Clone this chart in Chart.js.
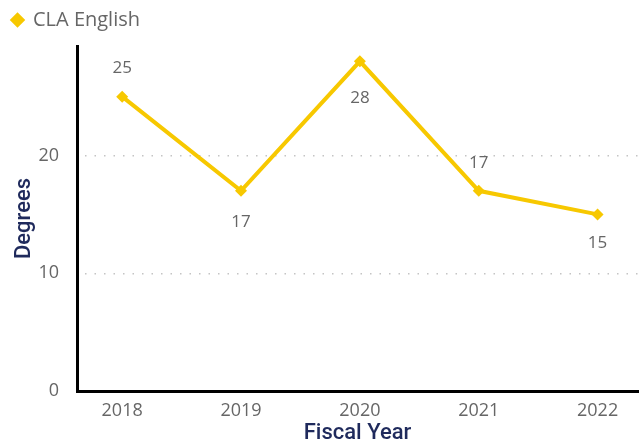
<!DOCTYPE html>
<html>
<head>
<meta charset="utf-8">
<script src="https://cdn.jsdelivr.net/npm/chart.js@4"></script>
<style>
  html, body { margin: 0; padding: 0; background: #ffffff; }
  #wrap { width: 644px; height: 447px; position: relative; }
</style>
</head>
<body>
<div id="wrap"><canvas id="c"></canvas></div>
<script>
// Fiscal years and CLA English degree counts
const fiscalYears = ['2018', '2019', '2020', '2021', '2022'];
const claEnglish = [25, 17, 28, 17, 15];
const yTicks = [0, 10, 20];

const LINE_YELLOW = '#F7C800';
const LABEL_GREY = '#666666';
const TITLE_NAVY = '#1F2A5C';

// Value labels above/below each point
const valueLabels = {
  id: 'valueLabels',
  afterDatasetsDraw(chart, args, opts) {
    const { ctx } = chart;
    const meta = chart.getDatasetMeta(0);
    const ds = chart.data.datasets[0];
    ctx.save();
    ctx.font = '17px "Open Sans", sans-serif';
    ctx.fillStyle = LABEL_GREY;
    ctx.textAlign = 'center';
    ctx.textBaseline = 'middle';
    meta.data.forEach((pt, i) => {
      const side = opts.side[i];
      const off = opts.offset[i];
      const y = side === 'above' ? pt.y - off : pt.y + off;
      ctx.fillText(String(ds.data[i].y), pt.x, y);
    });
    ctx.restore();
  }
};

// Extra space under the legend
const legendGap = {
  id: 'legendGap',
  beforeInit(chart) {
    const lg = chart.legend;
    if (lg && !lg._gapPatched) {
      const fit = lg.fit;
      lg.fit = function () { fit.call(this); this.height += 6; };
      lg._gapPatched = true;
    }
  }
};

new Chart(document.getElementById('c'), {
  type: 'line',
  data: {
    datasets: [{
      label: 'CLA English',
      data: fiscalYears.map((yr, i) => ({ x: Number(yr), y: claEnglish[i] })),
      borderColor: LINE_YELLOW,
      backgroundColor: LINE_YELLOW,
      borderWidth: 4,
      pointStyle: 'rectRot',
      pointRadius: 6,
      pointHoverRadius: 6,
      pointBackgroundColor: LINE_YELLOW,
      pointBorderColor: LINE_YELLOW,
      pointBorderWidth: 0,
      tension: 0
    }]
  },
  options: {
    responsive: true,
    maintainAspectRatio: false,
    animation: false,
    layout: { padding: { left: 2, right: 0, top: 0, bottom: 0 } },
    plugins: {
      legend: {
        position: 'top',
        align: 'start',
        labels: {
          usePointStyle: true,
          pointStyle: 'rectRot',
          boxWidth: 11,
          boxHeight: 11,
          padding: 10,
          color: LABEL_GREY,
          font: { family: '"Open Sans", sans-serif', size: 20 }
        }
      },
      tooltip: { enabled: false },
      valueLabels: {
        side: ['above', 'below', 'below', 'above', 'below'],
        offset: [28, 31, 37, 28, 29]
      }
    },
    scales: {
      x: {
        type: 'linear',
        min: 2017.62,
        max: 2022.34,
        afterBuildTicks(scale) {
          scale.ticks = fiscalYears.map(v => ({ value: Number(v) }));
        },
        afterFit(scale) { scale.height = 56; },
        ticks: {
          callback: (v) => String(v),
          color: LABEL_GREY,
          font: { family: '"Open Sans", sans-serif', size: 18 },
          padding: 9,
          maxRotation: 0
        },
        grid: { display: false, drawTicks: false },
        border: { display: true, color: '#000000', width: 3 },
        title: {
          display: true,
          text: 'Fiscal Year',
          color: TITLE_NAVY,
          font: { family: 'Roboto, sans-serif', size: 22, weight: '500' },
          padding: { top: 0, bottom: 0 }
        }
      },
      y: {
        type: 'linear',
        min: 0,
        max: 29.3,
        afterBuildTicks(scale) {
          scale.ticks = yTicks.map(v => ({ value: v }));
        },
        afterFit(scale) { scale.width = 75; },
        ticks: {
          color: LABEL_GREY,
          font: { family: '"Open Sans", sans-serif', size: 18 },
          padding: 18
        },
        grid: {
          drawTicks: false,
          color: (c) => c.tick && c.tick.value === 0 ? 'rgba(0,0,0,0)' : '#C4C4C4',
          lineWidth: 1.5
        },
        border: { display: true, color: '#000000', width: 3, dash: [1.5, 8], dashOffset: -6 },
        title: {
          display: true,
          text: 'Degrees',
          color: TITLE_NAVY,
          font: { family: 'Roboto, sans-serif', size: 22, weight: '500' },
          padding: { top: 9, bottom: 0 }
        }
      }
    }
  },
  plugins: [legendGap, valueLabels]
});
</script>
</body>
</html>
